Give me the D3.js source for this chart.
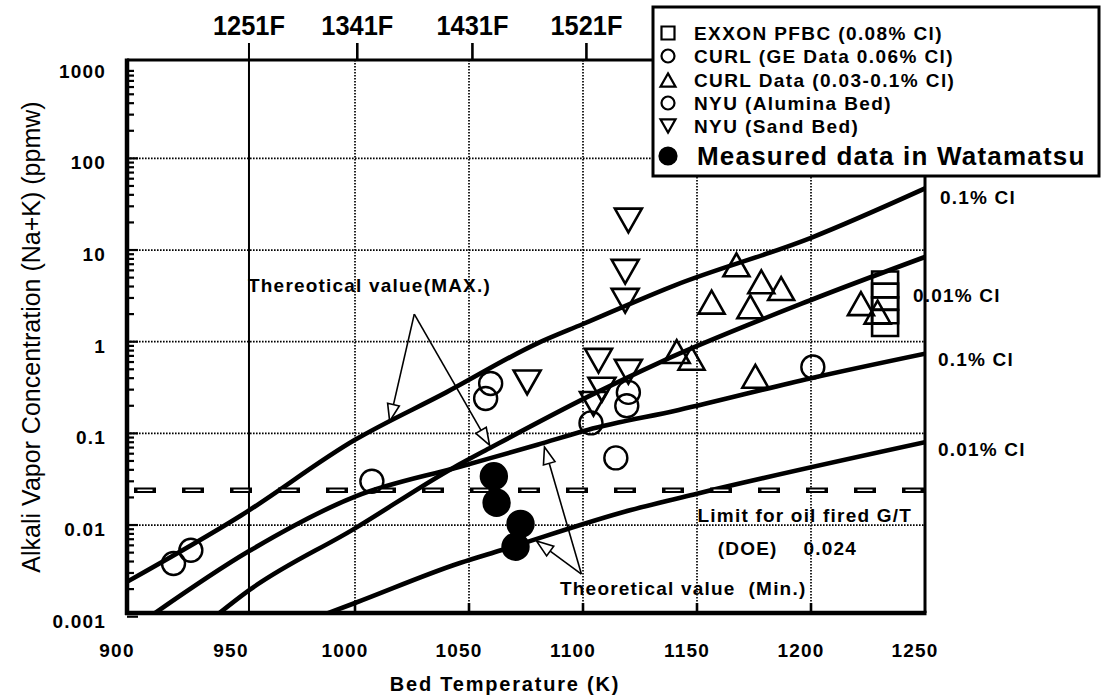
<!DOCTYPE html>
<html>
<head>
<meta charset="utf-8">
<script src="https://cdn.jsdelivr.net/npm/d3@7"></script>
<style>
  html, body { margin: 0; padding: 0; background: #fff; }
  svg text { font-family: "Liberation Sans", Arial, Helvetica, sans-serif; fill: #000; }
</style>
</head>
<body>
<svg id="chart" width="1106" height="698"></svg>
<script>
// ---- Theoretical equilibrium curves: [bed temperature (K), alkali vapour (ppmw)] ----
const maxCl01  = [[900, 0.0024], [950, 0.0127], [1000, 0.085], [1040, 0.28], [1080, 0.96],
                  [1100, 1.56], [1140, 4.1], [1200, 13.6], [1250, 47]];
const maxCl001 = [[938.5, 0.001], [953, 0.0019], [1000, 0.0092], [1043, 0.042], [1060, 0.071],
                  [1102, 0.25], [1134, 0.6], [1200, 2.85], [1250, 8.4]];
const minCl01  = [[910, 0.001], [953, 0.0051], [1000, 0.0204], [1046, 0.0433], [1080, 0.075],
                  [1102, 0.109], [1142, 0.18], [1200, 0.4], [1250, 0.74]];
const minCl001 = [[984, 0.001], [1000, 0.00141], [1046, 0.00385], [1064, 0.0053], [1121, 0.0146],
                  [1150, 0.022], [1250, 0.08]];

// Oil fired gas turbine limit (DOE), ppmw
const doeLimit = 0.024;

// ---- Measured / literature data: [K, ppmw] ----
const exxonPfbc   = [[1232.5, 4.2], [1232.5, 3.1], [1232.5, 2.2], [1232.5, 1.6]];
const curlGe      = [[920.4, 0.0038], [928, 0.0053], [1007.4, 0.030]];
const curlData    = [[1167.3, 6.9], [1156.4, 2.7], [1178.2, 4.5], [1186.9, 3.8], [1173.4, 2.4],
                     [1141.1, 0.78], [1147.6, 0.66], [1175.6, 0.42], [1221.9, 2.6], [1229.2, 2.1]];
const nyuAlumina  = [[1059.5, 0.35], [1057.3, 0.24], [1119.9, 0.28], [1119.2, 0.2], [1103.5, 0.13],
                     [1114.4, 0.054], [1200.8, 0.53]];
const nyuSand     = [[1119.9, 21], [1118.5, 5.8], [1118.5, 2.8], [1075.5, 0.36], [1106.8, 0.62],
                     [1119.9, 0.47], [1108.3, 0.30], [1104.6, 0.21]];
const watamatsu   = [[1060.9, 0.034], [1062.1, 0.0175], [1072.6, 0.0103], [1070.4, 0.0058]];

// ---- Axis ticks ----
const xTickValues = [900, 950, 1000, 1050, 1100, 1150, 1200, 1250];
const xTickLabels = ["900", "950", "1000", "1050", "1100", "1150", "1200", "1250"];
const yTickValues = [1000, 100, 10, 1, 0.1, 0.01, 0.001];
const yTickLabels = ["1000", "100", "10", "1", "0.1", "0.01", "0.001"];
const xGridValues = [1000, 1050, 1100, 1150, 1200];
const yGridValues = [100, 10, 1, 0.1, 0.01];
// Fahrenheit marks along the top edge and their Kelvin positions
const topTickLabels = ["1251F", "1341F", "1431F", "1521F"];
const topTickKelvin = [953.5, 1001, 1051.5, 1101.5];

// ---- Annotation arrows (data coordinates) ----
const maxArrowApex = [1026, 2.0];
const maxArrowTips = [[1015.2, 0.136], [1059, 0.0746]];
const minArrowApex = [1099.3, 0.00292];
const minArrowTips = [[1083.1, 0.071], [1079.6, 0.0067]];

// ---- Legend entries ----
const legendLabels = ["EXXON PFBC (0.08% Cl)", "CURL (GE Data 0.06% Cl)", "CURL Data (0.03-0.1% Cl)",
                      "NYU (Alumina Bed)", "NYU (Sand Bed)", "Measured data in Watamatsu"];
const legendSymbols = ["square", "circle", "up", "circle", "down", "dot"];

// ================= drawing =================
const W = 1106, H = 698;
const svg = d3.select("#chart");
svg.append("rect").attr("width", W).attr("height", H).attr("fill", "#fff");

const x = d3.scaleLinear().domain([900, 1250]).range([127, 925]);
const y = d3.scaleLog().domain([0.001, 1000]).range([616.7, 66.7]);
const frame = { left: x(900), right: x(1250), top: 60, bottom: 613 };

svg.append("clipPath").attr("id", "plotClip")
  .append("rect")
  .attr("x", frame.left).attr("y", frame.top)
  .attr("width", frame.right - frame.left).attr("height", frame.bottom - frame.top);

// dotted grid
const grid = svg.append("g").attr("stroke", "#000").attr("stroke-width", 1.7)
  .attr("stroke-dasharray", "1.6 1.4");
grid.selectAll("line.h").data(yGridValues).join("line").attr("class", "h")
  .attr("x1", frame.left).attr("x2", frame.right)
  .attr("y1", d => y(d)).attr("y2", d => y(d));
grid.selectAll("line.v").data(xGridValues).join("line").attr("class", "v")
  .attr("x1", d => x(d)).attr("x2", d => x(d))
  .attr("y1", frame.top).attr("y2", frame.bottom);

// Fahrenheit marks: first one is a full solid line, others short ticks above the frame
svg.append("g").selectAll("line").data(topTickKelvin).join("line")
  .attr("x1", d => x(d)).attr("x2", d => x(d))
  .attr("y1", 43).attr("y2", (d, i) => i === 0 ? frame.bottom : frame.top)
  .attr("stroke", "#000").attr("stroke-width", (d, i) => i === 0 ? 2 : 2.6);
svg.append("g").selectAll("text").data(topTickLabels).join("text")
  .attr("x", (d, i) => x(topTickKelvin[i]) - 36)
  .attr("y", 35)
  .attr("textLength", 72).attr("lengthAdjust", "spacingAndGlyphs")
  .attr("font-size", 27).attr("font-weight", "bold")
  .text(d => d);

// minor/major ticks on the left axis
const leftTicks = [];
for (let e = -3; e < 3; e++) {
  for (let m = 1; m <= 9; m++) leftTicks.push({ v: m * Math.pow(10, e), major: m === 1 });
}
svg.append("g").selectAll("line").data(leftTicks).join("line")
  .attr("x1", frame.left).attr("x2", d => frame.left + (d.major ? 11 : 7))
  .attr("y1", d => y(d.v)).attr("y2", d => y(d.v))
  .attr("stroke", "#000").attr("stroke-width", 2.2);

// bottom ticks
svg.append("g").selectAll("line").data(xGridValues).join("line")
  .attr("x1", d => x(d)).attr("x2", d => x(d))
  .attr("y1", frame.bottom).attr("y2", frame.bottom - 10)
  .attr("stroke", "#000").attr("stroke-width", 2.6);

// frame
const fr = svg.append("g").attr("stroke", "#000");
fr.append("line").attr("x1", frame.left).attr("x2", frame.right).attr("y1", frame.top).attr("y2", frame.top).attr("stroke-width", 3);
fr.append("line").attr("x1", frame.right).attr("x2", frame.right).attr("y1", frame.top).attr("y2", frame.bottom).attr("stroke-width", 3);
fr.append("line").attr("x1", frame.left - 2).attr("x2", frame.right + 1.5).attr("y1", frame.bottom).attr("y2", frame.bottom).attr("stroke-width", 4.5);
fr.append("line").attr("x1", frame.left).attr("x2", frame.left).attr("y1", frame.top - 1.5).attr("y2", frame.bottom + 2).attr("stroke-width", 4.5);

// axis tick labels
const labelFont = { size: 19, spacing: 1.2 };
svg.append("g").selectAll("text").data(yTickValues).join("text")
  .attr("x", 106).attr("y", d => y(d) + 11)
  .attr("text-anchor", "end").attr("font-size", labelFont.size).attr("font-weight", "bold")
  .attr("letter-spacing", labelFont.spacing)
  .text((d, i) => yTickLabels[i]);
svg.append("g").selectAll("text").data(xTickValues).join("text")
  .attr("x", d => x(d) - 10).attr("y", 657)
  .attr("text-anchor", "middle").attr("font-size", labelFont.size).attr("font-weight", "bold")
  .attr("letter-spacing", labelFont.spacing)
  .text((d, i) => xTickLabels[i]);

// axis titles
svg.append("text").attr("x", 505).attr("y", 691).attr("text-anchor", "middle")
  .attr("font-size", 20).attr("font-weight", "bold").attr("letter-spacing", 1.8)
  .text("Bed Temperature (K)");
svg.append("text").attr("transform", "translate(40,337) rotate(-90)").attr("text-anchor", "middle")
  .attr("font-size", 25)
  .text("Alkali Vapor Concentration (Na+K) (ppmw)");

// theoretical curves
const plot = svg.append("g").attr("clip-path", "url(#plotClip)");
const curve = d3.line().x(d => x(d[0])).y(d => y(d[1])).curve(d3.curveMonotoneX);
plot.selectAll("path.curve").data([maxCl01, maxCl001, minCl01, minCl001]).join("path")
  .attr("class", "curve").attr("d", curve)
  .attr("fill", "none").attr("stroke", "#000").attr("stroke-width", 4.6)
  .attr("stroke-linejoin", "round");

// DOE limit: heavy hollow-looking dashes
plot.append("line").attr("x1", frame.left).attr("x2", frame.right)
  .attr("y1", y(doeLimit)).attr("y2", y(doeLimit))
  .attr("stroke", "#000").attr("stroke-width", 5.5)
  .attr("stroke-dasharray", "22 26").attr("stroke-dashoffset", 41);
plot.append("line").attr("x1", frame.left).attr("x2", frame.right)
  .attr("y1", y(doeLimit)).attr("y2", y(doeLimit))
  .attr("stroke", "#fff").attr("stroke-width", 1.5)
  .attr("stroke-dasharray", "15 33").attr("stroke-dashoffset", 37.5);

// symbol shapes
function symbolPath(kind, s) {
  if (kind === "square") return `M${-s / 2},${-s / 2}h${s}v${s}h${-s}Z`;
  const w = s, h = s * 0.88;
  if (kind === "up") return `M0,${-h / 2}L${w / 2},${h / 2}L${-w / 2},${h / 2}Z`;
  if (kind === "down") return `M0,${h / 2}L${w / 2},${-h / 2}L${-w / 2},${-h / 2}Z`;
  return null;
}
function drawPoints(data, kind, size) {
  const g = svg.append("g");
  if (kind === "circle" || kind === "dot") {
    g.selectAll("circle").data(data).join("circle")
      .attr("cx", d => x(d[0])).attr("cy", d => y(d[1])).attr("r", size / 2)
      .attr("fill", kind === "dot" ? "#000" : "none")
      .attr("stroke", "#000").attr("stroke-width", 2.4);
  } else {
    g.selectAll("path").data(data).join("path")
      .attr("transform", d => `translate(${x(d[0])},${y(d[1])})`)
      .attr("d", symbolPath(kind, size))
      .attr("fill", "none").attr("stroke", "#000").attr("stroke-width", 2.6)
      .attr("stroke-linejoin", "miter");
  }
}
drawPoints(exxonPfbc, "square", 26);
drawPoints(curlGe, "circle", 23);
drawPoints(nyuAlumina, "circle", 23);
drawPoints(curlData, "up", 26);
drawPoints(nyuSand, "down", 27);
drawPoints(watamatsu, "dot", 26);

// annotation arrows with hollow heads
function drawArrows(apex, tips) {
  const g = svg.append("g");
  const ax = x(apex[0]), ay = y(apex[1]);
  tips.forEach(t => {
    const tx = x(t[0]), ty = y(t[1]);
    const dx = tx - ax, dy = ty - ay, len = Math.hypot(dx, dy);
    const ux = dx / len, uy = dy / len;
    const L = 17, hw = 6;
    const bx = tx - ux * L, by = ty - uy * L;
    g.append("line").attr("x1", ax).attr("y1", ay).attr("x2", bx).attr("y2", by)
      .attr("stroke", "#000").attr("stroke-width", 1.6);
    g.append("path")
      .attr("d", `M${tx},${ty}L${bx - uy * hw},${by + ux * hw}L${bx + uy * hw},${by - ux * hw}Z`)
      .attr("fill", "#fff").attr("stroke", "#000").attr("stroke-width", 1.6);
  });
}
drawArrows(maxArrowApex, maxArrowTips);
drawArrows(minArrowApex, minArrowTips);

// annotation text
const note = svg.append("g").attr("font-weight", "bold").attr("font-size", 19).attr("letter-spacing", 1.2);
note.append("text").attr("x", 248).attr("y", 292).text("Thereotical value(MAX.)");
note.append("text").attr("x", 560).attr("y", 595).attr("xml:space", "preserve").text("Theoretical value  (Min.)");
note.append("text").attr("x", 912).attr("y", 522).attr("text-anchor", "end").text("Limit for oil fired G/T");
note.append("text").attr("x", 857).attr("y", 555).attr("text-anchor", "end").attr("xml:space", "preserve").text("(DOE)    0.024");

// curve end labels (chlorine content)
const endLabels = [["0.1% Cl", 940, 204], ["0.01% Cl", 913, 302], ["0.1% Cl", 938, 366], ["0.01% Cl", 938, 456]];
note.selectAll("text.end").data(endLabels).join("text").attr("class", "end")
  .attr("x", d => d[1]).attr("y", d => d[2]).text(d => d[0]);

// legend
const lg = svg.append("g");
lg.append("rect").attr("x", 653).attr("y", 7).attr("width", 446).attr("height", 169)
  .attr("fill", "#fff").attr("stroke", "#000").attr("stroke-width", 3);
const rowBase = [40, 63, 87, 110, 133, 165];
legendLabels.forEach((lab, i) => {
  const cy = rowBase[i] - 7;
  const k = legendSymbols[i];
  if (k === "circle" || k === "dot") {
    lg.append("circle").attr("cx", 668).attr("cy", k === "dot" ? cy - 2 : cy)
      .attr("r", k === "dot" ? 8.5 : 6.5)
      .attr("fill", k === "dot" ? "#000" : "none").attr("stroke", "#000").attr("stroke-width", 2.2);
  } else {
    lg.append("path").attr("transform", `translate(668,${cy})`)
      .attr("d", symbolPath(k, k === "square" ? 13 : 15))
      .attr("fill", "none").attr("stroke", "#000").attr("stroke-width", 2.2);
  }
  const t = lg.append("text").attr("x", i === 5 ? 697 : 694).attr("y", rowBase[i])
    .attr("font-weight", "bold").text(lab);
  if (i === 5) t.attr("font-size", 26).attr("letter-spacing", 1.2);
  else t.attr("font-size", 19).attr("letter-spacing", 1.4);
});
</script>
</body>
</html>
